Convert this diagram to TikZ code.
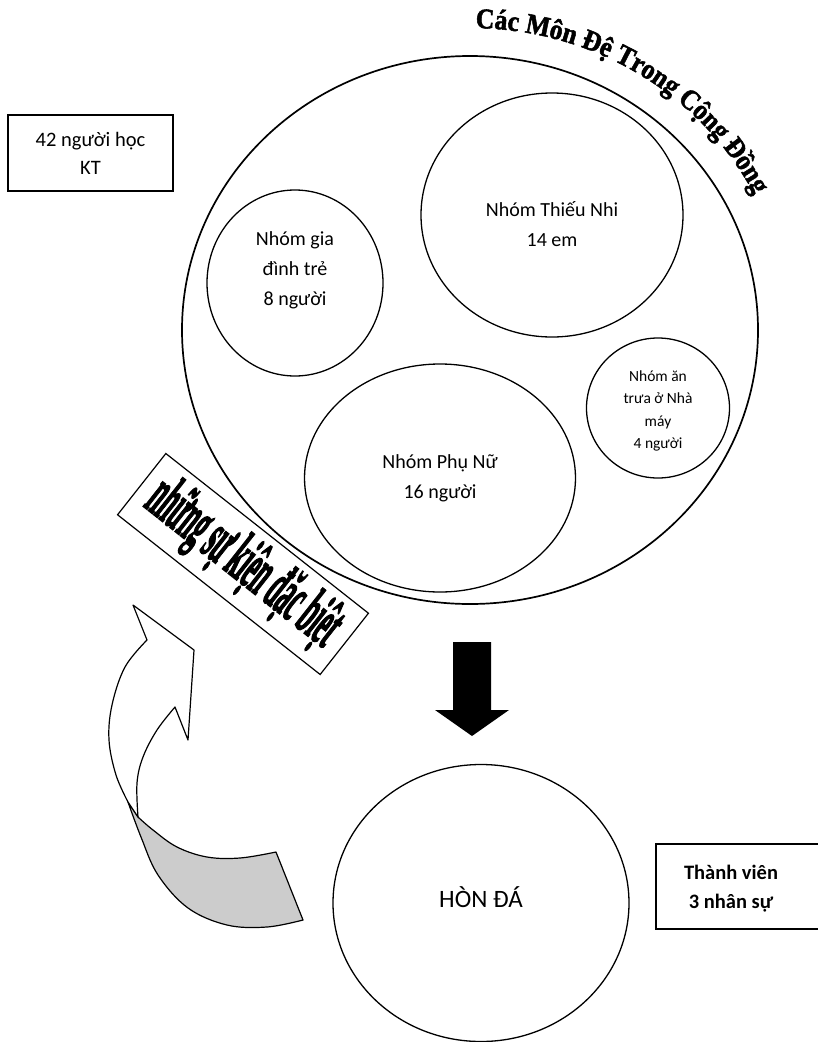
\documentclass[tikz,border=0pt]{standalone}
\usepackage{fontspec}
\setmainfont{Carlito}
\newfontfamily\wordart[FakeBold=3]{Liberation Serif}
\newfontfamily\titlefont[FakeBold=1.8, FakeStretch=0.9]{Liberation Serif}
\usetikzlibrary{shapes.geometric,decorations.text}
\definecolor{backgray}{RGB}{204,204,204}
\tikzset{
  ring/.style={draw, ellipse, line width=1.3pt, inner sep=0pt},
  lbl/.style={align=center, font=\fontsize{20}{30}\selectfont},
  frame/.style={draw, line width=1.3pt},
  ribbon/.style={draw, line width=1.2pt, line join=round},
}
\begin{document}
\begin{tikzpicture}[x=1pt, y=-1pt]
\useasboundingbox (0,0) rectangle (817,1042);
% big circle
\node[ring, line width=1.7pt, minimum width=576pt, minimum height=548pt] (disciples) at (470,330) {};
% curved title
\path[decorate, decoration={text along path, text align=left,
  text={|\titlefont\bfseries\fontsize{28.5}{28.5}\selectfont|Các Môn Đệ Trong Cộng Đồng}}]
  (475.5,28) arc[start angle=-89, end angle=-10, x radius=318, y radius=302];
% inner circles
\node[ring, minimum width=262pt, minimum height=244pt] (children) at (552,215) {};
\node[lbl] (childrentext) at (552,224) {Nhóm Thiếu Nhi\\14 em};
\node[ring, minimum width=176pt, minimum height=186pt] (families) at (295,283) {};
\node[lbl] (familiestext) at (295,270) {Nhóm gia\\đình trẻ\\8 người};
\node[ring, minimum width=271pt, minimum height=228pt] (women) at (440,478) {};
\node[lbl] (womentext) at (440,478) {Nhóm Phụ Nữ\\16 người};
\node[ring, minimum width=143pt, minimum height=140pt] (lunch) at (658,408) {};
\node[align=center, font=\fontsize{15.5}{22.6}\selectfont] (lunchtext) at (658,411) {Nhóm ăn\\trưa ở Nhà\\máy\\4 người};
% left box
\node[frame, minimum width=165pt, minimum height=76pt, lbl, font=\fontsize{20.5}{28}\selectfont] (learners) at (90.5,153) {42 người học\\KT};
% rock
\node[ring, minimum width=296pt, minimum height=277pt] (rock) at (481,903) {};
\node[font=\fontsize{25}{28}\selectfont] (rocktext) at (481,897) {HÒN ĐÁ};
% members box
\draw[line width=1.3pt] (656,844) rectangle (824,929);
\node[align=center, font=\bfseries\fontsize{20.5}{29}\selectfont] (members) at (731,889) {Thành viên\\3 nhân sự};
% black block arrow
\fill (453,642) -- (491,642) -- (491,710) -- (509,710) -- (472,736) -- (435,710) -- (453,710) -- cycle;
% curved arrow: back (gray) part
\filldraw[ribbon, fill=backgray] (128,802)
  -- plot[smooth, tension=0.6] coordinates {(128,802) (141,837) (158,875) (188,908) (227,925) (267,927) (303,920)}
  -- (276,852)
  -- plot[smooth, tension=0.6] coordinates {(276,852) (240,858) (207,857) (177,847) (153,830) (138,817)}
  -- cycle;
% curved arrow: front (white) part
\filldraw[ribbon, fill=white] (133,605) -- (194,650) -- (188,740) -- (175,707)
  -- plot[smooth, tension=0.6] coordinates {(175,707) (157,730) (143,757) (137,783) (138,817)}
  -- (128,802)
  -- plot[smooth, tension=0.6] coordinates {(128,802) (116,775) (109,740) (112,705) (125,667) (147,640)}
  -- cycle;
% rotated events box
\node[draw, fill=white, line width=1.2pt, rotate=-38.25, minimum width=258pt, minimum height=78pt, inner sep=0pt] (events) at (243,564)
  {\resizebox*{230pt}{62pt}{\wordart\bfseries những sự kiện đặc biệt}};
\end{tikzpicture}
\end{document}
